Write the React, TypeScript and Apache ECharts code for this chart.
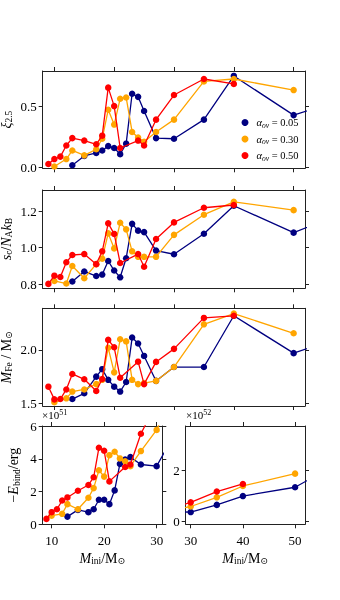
import React, { useEffect, useRef } from 'react';
import * as echarts from 'echarts';

const SERIF = 'Liberation Serif, DejaVu Serif, serif';

const seriesNames = ['α_ov = 0.05', 'α_ov = 0.30', 'α_ov = 0.50'];
const seriesColors = ['#000080', '#FFA500', '#FF0000'];

const massBlue = [13, 15, 17, 18, 19, 20, 21, 22, 23, 24, 25, 27, 30, 35, 40, 50, 60];
const massOrange = [10, 12, 13, 15, 17, 18, 19, 20, 21, 22, 23, 24, 25, 27, 30, 35, 40, 50];
const massRed = [9, 10, 11, 12, 13, 15, 17, 18, 19, 20, 21, 24, 25, 27, 30, 35, 40];

const xiBlue = [0.02, 0.095, 0.12, 0.14, 0.175, 0.16, 0.11, 0.195, 0.6, 0.575, 0.46, 0.24, 0.235, 0.39, 0.745, 0.427, 0.58];
const xiOrange = [0.01, 0.07, 0.14, 0.1, 0.15, 0.235, 0.47, 0.35, 0.56, 0.57, 0.29, 0.245, 0.21, 0.29, 0.39, 0.7, 0.72, 0.63];
const xiRed = [0.03, 0.07, 0.09, 0.18, 0.24, 0.22, 0.19, 0.26, 0.65, 0.5, 0.16, 0.22, 0.18, 0.39, 0.59, 0.72, 0.68];

const scBlue = [0.815, 0.87, 0.845, 0.853, 0.927, 0.875, 0.838, 0.942, 1.13, 1.093, 1.085, 0.984, 0.964, 1.076, 1.229, 1.082, 1.21];
const scOrange = [0.818, 0.804, 0.9, 0.833, 0.91, 0.94, 1.078, 0.996, 1.136, 1.1, 0.98, 0.95, 0.95, 0.95, 1.07, 1.18, 1.25, 1.205];
const scRed = [0.802, 0.847, 0.84, 0.92, 0.96, 0.965, 0.91, 0.98, 1.133, 1.075, 0.916, 0.965, 0.896, 1.047, 1.138, 1.218, 1.233];

const feBlue = [1.54, 1.594, 1.75, 1.82, 1.72, 1.656, 1.61, 1.7, 2.116, 2.06, 1.944, 1.71, 1.84, 1.84, 2.32, 1.97, 2.16];
const feOrange = [1.51, 1.547, 1.61, 1.63, 1.68, 1.72, 2.02, 1.79, 2.1, 2.08, 1.72, 1.68, 1.69, 1.71, 1.84, 2.24, 2.34, 2.156];
const feRed = [1.656, 1.537, 1.54, 1.63, 1.775, 1.725, 1.616, 1.728, 2.094, 2.025, 1.74, 1.89, 1.68, 1.888, 2.01, 2.3, 2.32];

// binding energy in units of 1e51 erg
const ebBlue = [0.47, 0.88, 0.74, 0.92, 1.5, 1.5, 1.23, 2.07, 3.69, 3.95, 4.1, 3.65, 3.55, 6.4, 9.9, 13.4, 24.9];
const ebOrange = [0.53, 0.64, 1.23, 0.92, 1.62, 2.21, 3.3, 2.91, 4.22, 4.43, 4.02, 3.85, 3.55, 4.47, 5.76, 9.4, 13.9, 18.8];
const ebRed = [0.33, 0.74, 0.92, 1.45, 1.64, 2.05, 2.4, 2.87, 4.67, 4.49, 2.62, 3.5, 3.65, 5.53, 7.4, 11.7, 14.7];

const xTicksTop = [10, 20, 30, 40, 50];
const xTicksLowLeft = [10, 20, 30];
const xTicksLowRight = [30, 40, 50];
const yTicksXi = [0, 0.5];
const yTicksSc = [0.8, 1.0, 1.2];
const yTicksFe = [1.5, 2.0];
const yTicksEbLeft = [0, 2, 4, 6];
const yTicksEbRight = [0, 2];

const NF = 14;
const nameRich = {
  i: { fontFamily: SERIF, fontStyle: 'italic', fontSize: NF, color: '#000' },
  r: { fontFamily: SERIF, fontSize: NF, color: '#000' },
  s: { fontFamily: SERIF, fontSize: 9.5, color: '#000', padding: [6, 0, 0, 0] },
};

export default function App() {
  const ref = useRef<HTMLDivElement>(null);
  useEffect(() => {
    const chart = echarts.init(ref.current!, null, { renderer: 'svg' });

    const gridBase = { containLabel: false, outerBoundsMode: 'none' };
    const grids = [
      { ...gridBase, left: 42.7, top: 71, width: 262.3, height: 97.3 },
      { ...gridBase, left: 42.7, top: 190, width: 262.3, height: 98.3 },
      { ...gridBase, left: 42.7, top: 308.3, width: 262.3, height: 97.7 },
      { ...gridBase, left: 42.7, top: 426, width: 119.6, height: 98.3 },
      { ...gridBase, left: 185.7, top: 426, width: 119.3, height: 98.3 },
    ];

    const panels = [
      { xr: [8.05, 51.9], yr: [-0.005, 0.785], xt: xTicksTop, yt: yTicksXi, xl: false, yfmt: (v: number) => v.toFixed(1), name: '{i|ξ}{s|2.5}', gap: 28.5, data: [xiBlue, xiOrange, xiRed], scale: 1 },
      { xr: [8.05, 51.9], yr: [0.778, 1.315], xt: xTicksTop, yt: yTicksSc, xl: false, yfmt: (v: number) => v.toFixed(1), name: '{i|s}{s|c}{r|/}{i|N}{s|A}{i|k}{s|B}', gap: 28.5, data: [scBlue, scOrange, scRed], scale: 1 },
      { xr: [8.05, 51.9], yr: [1.475, 2.39], xt: xTicksTop, yt: yTicksFe, xl: false, yfmt: (v: number) => v.toFixed(1), name: '{i|M}{s|Fe}{r| / M}{s|⊙}', gap: 28.5, data: [feBlue, feOrange, feRed], scale: 1 },
      { xr: [8.29, 31.08], yr: [0, 6], xt: xTicksLowLeft, yt: yTicksEbLeft, xl: true, yfmt: (v: number) => String(v), name: '{r|−}{i|E}{s|bind}{r|/erg}', gap: 21, data: [ebBlue, ebOrange, ebRed], scale: 1 },
      { xr: [29.04, 51.9], yr: [-0.13, 3.77], xt: xTicksLowRight, yt: yTicksEbRight, xl: true, yfmt: (v: number) => String(v), name: '', gap: 20, data: [ebBlue, ebOrange, ebRed], scale: 0.1 },
    ];
    const masses = [massBlue, massOrange, massRed];

    const axisLine = { show: true, onZero: false, lineStyle: { color: '#222', width: 1 } };
    const labelStyle = { fontFamily: SERIF, fontSize: 13, color: '#000' };

    const xAxis: any[] = [];
    const yAxis: any[] = [];
    const series: any[] = [];

    panels.forEach((p, gi) => {
      xAxis.push({
        type: 'value', gridIndex: gi, position: 'bottom', min: p.xr[0], max: p.xr[1],
        axisLine, splitLine: { show: false },
        axisTick: { show: true, length: 4, customValues: p.xt, lineStyle: { color: '#222' } },
        axisLabel: { show: p.xl, customValues: p.xt, margin: 10, ...labelStyle },
        name: p.xl ? '{i|M}{s|ini}{r|/M}{s|⊙}' : '', nameLocation: 'middle', nameGap: 26, nameMoveOverlap: false,
        nameTextStyle: { rich: nameRich },
      });
      xAxis.push({
        type: 'value', gridIndex: gi, position: 'top', min: p.xr[0], max: p.xr[1],
        axisLine, splitLine: { show: false },
        axisTick: { show: true, length: 4, customValues: p.xt, lineStyle: { color: '#222' } },
        axisLabel: { show: false },
      });
      yAxis.push({
        type: 'value', gridIndex: gi, position: 'left', min: p.yr[0], max: p.yr[1],
        axisLine, splitLine: { show: false },
        axisTick: { show: true, length: 4, customValues: p.yt, lineStyle: { color: '#222' } },
        axisLabel: { show: true, customValues: p.yt, margin: 6, formatter: p.yfmt, ...labelStyle },
        name: p.name, nameLocation: 'middle', nameRotate: 90, nameGap: p.gap, nameMoveOverlap: false,
        nameTextStyle: { rich: nameRich },
      });
      yAxis.push({
        type: 'value', gridIndex: gi, position: 'right', min: p.yr[0], max: p.yr[1],
        axisLine, splitLine: { show: false },
        axisTick: { show: true, length: 4, customValues: p.yt, lineStyle: { color: '#222' } },
        axisLabel: { show: false },
      });
      p.data.forEach((vals, si) => {
        series.push({
          type: 'line', name: seriesNames[si], xAxisIndex: 2 * gi, yAxisIndex: 2 * gi,
          data: masses[si].map((m, k) => [m, vals[k] * p.scale]),
          symbol: 'circle', symbolSize: 6.5, showSymbol: true, clip: true,
          lineStyle: { width: 1.3, color: seriesColors[si] },
          itemStyle: { color: seriesColors[si] },
          emphasis: { disabled: true },
          z: 2 + si,
        });
      });
    });

    const supStyle = { sup: { fontFamily: SERIF, fontSize: 8, fill: '#000', padding: [0, 0, 6, 0] } };
    const option: any = {
      animation: false,
      grid: grids,
      xAxis, yAxis, series,
      legend: {
        data: seriesNames.map((n) => ({ name: n, icon: 'circle' })),
        orient: 'vertical', left: 236.5, top: 112, itemWidth: 7, itemHeight: 7, itemGap: 4.5,
        formatter: (n: string) => '{i|α}{s|ov}{r| = ' + n.split('= ')[1] + '}',
        textStyle: {
          rich: {
            i: { fontFamily: SERIF, fontStyle: 'italic', fontSize: 10.5, color: '#000', padding: [0, 0, 0, 3] },
            s: { fontFamily: SERIF, fontStyle: 'italic', fontSize: 7.5, color: '#000', padding: [5, 0, 0, 0] },
            r: { fontFamily: SERIF, fontSize: 10.5, color: '#000' },
          },
        },
      },
      graphic: [
        { type: 'text', left: 42, top: 408, style: { text: '×10{sup|51}', fontFamily: SERIF, fontSize: 11, fill: '#000', rich: supStyle } },
        { type: 'text', left: 186, top: 408, style: { text: '×10{sup|52}', fontFamily: SERIF, fontSize: 11, fill: '#000', rich: supStyle } },
      ],
    };
    chart.setOption(option);
    return () => chart.dispose();
  }, []);
  return <div ref={ref} style={{ position: 'fixed', left: 0, top: 0, width: 340, height: 600 }} />;
}
